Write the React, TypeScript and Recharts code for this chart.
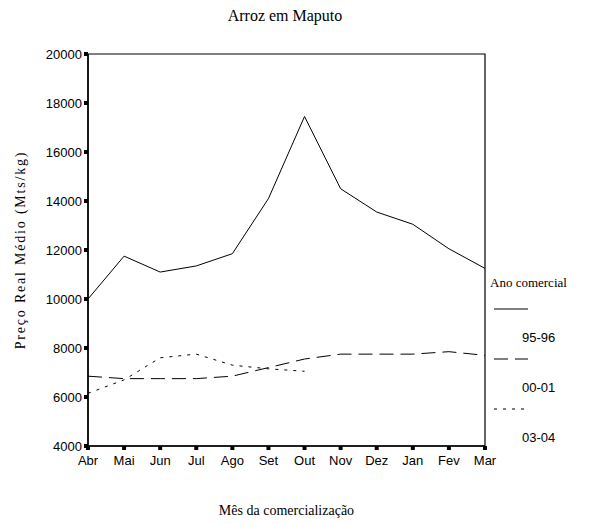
import React from 'react';
import { LineChart, Line, XAxis, YAxis, ReferenceArea } from 'recharts';

const months = ['Abr', 'Mai', 'Jun', 'Jul', 'Ago', 'Set', 'Out', 'Nov', 'Dez', 'Jan', 'Fev', 'Mar'];
const s9596 = [10000, 11750, 11100, 11350, 11850, 14100, 17450, 14500, 13550, 13050, 12050, 11250];
const s0001 = [6850, 6750, 6750, 6750, 6850, 7200, 7550, 7750, 7750, 7750, 7850, 7700];
const s0304 = [6150, 6700, 7600, 7750, 7300, 7150, 7050, null, null, null, null, null];
const yTicks = [4000, 6000, 8000, 10000, 12000, 14000, 16000, 18000, 20000];

const series = [
  { key: 'a', name: '95-96', values: s9596, dash: undefined as string | undefined },
  { key: 'b', name: '00-01', values: s0001, dash: '14 7' },
  { key: 'c', name: '03-04', values: s0304, dash: '3 6' },
];

const data = months.map((m, i) => {
  const row: Record<string, string | number | null> = { month: m };
  series.forEach((s) => (row[s.key] = s.values[i]));
  return row;
});

const sans = '"Liberation Sans", Arial, sans-serif';
const serif = '"Liberation Serif", "Times New Roman", serif';

// legenda desenhada à mão, como no original
const LegendBox = () => (
  <div style={{ position: 'absolute', left: 490, top: 275, fontFamily: serif, fontSize: 13 }}>
    <div style={{ whiteSpace: 'nowrap' }}>Ano comercial</div>
    {series.map((s, i) => (
      <div key={s.key} style={{ position: 'absolute', left: 0, top: 26 + i * 50, width: 90 }}>
        <svg width={40} height={4} style={{ position: 'absolute', left: 4, top: 6 }}>
          <line x1={0} y1={2} x2={34} y2={2} stroke="#000" strokeWidth={1.2} strokeDasharray={s.dash} />
        </svg>
        <div style={{ position: 'absolute', left: 32, top: 29, fontFamily: sans, fontSize: 13 }}>{s.name}</div>
      </div>
    ))}
  </div>
);

export default function App() {
  return (
    <div style={{ position: 'relative', width: 589, height: 524, background: '#fff' }}>
      <style>{'body{margin:0}'}</style>
      <div
        style={{
          position: 'absolute',
          top: 7,
          left: 0,
          width: 570,
          textAlign: 'center',
          fontFamily: serif,
          fontSize: 16,
        }}
      >
        Arroz em Maputo
      </div>
      <LineChart width={589} height={524} data={data} margin={{ top: 54, right: 104, bottom: 8, left: 28 }}>
        <XAxis
          dataKey="month"
          padding={{ left: 0, right: 0 }}
          tick={{ fontSize: 13, fill: '#000', fontFamily: sans }}
          tickLine={{ stroke: '#000', strokeWidth: 4 }}
          tickSize={4}
          tickMargin={6}
          axisLine={{ stroke: '#000', strokeWidth: 1.5 }}
          height={70}
          label={{
            value: 'Mês da comercialização',
            position: 'insideBottom',
            offset: 1,
            style: { fontFamily: serif, fontSize: 14, fill: '#000' },
          }}
        />
        <YAxis
          domain={[4000, 20000]}
          ticks={yTicks}
          interval={0}
          width={60}
          tick={{ fontSize: 13, fill: '#000', fontFamily: sans }}
          tickLine={{ stroke: '#000', strokeWidth: 4 }}
          tickSize={4}
          tickMargin={2}
          axisLine={{ stroke: '#000', strokeWidth: 1.5 }}
          label={{
            value: 'Preço Real Médio (Mts/kg)',
            angle: -90,
            position: 'left',
            offset: 8,
            style: { fontFamily: serif, fontSize: 14, fill: '#000', letterSpacing: 1.8, textAnchor: 'middle' },
          }}
        />
        <ReferenceArea x1="Abr" x2="Mar" y1={4000} y2={20000} fill="none" stroke="#000" strokeWidth={1.2} />
        {series.map((s) => (
          <Line
            key={s.key}
            dataKey={s.key}
            name={s.name}
            type="linear"
            stroke="#000"
            strokeWidth={1}
            strokeDasharray={s.dash}
            dot={false}
            activeDot={false}
            connectNulls={false}
            isAnimationActive={false}
          />
        ))}
      </LineChart>
      <LegendBox />
    </div>
  );
}
